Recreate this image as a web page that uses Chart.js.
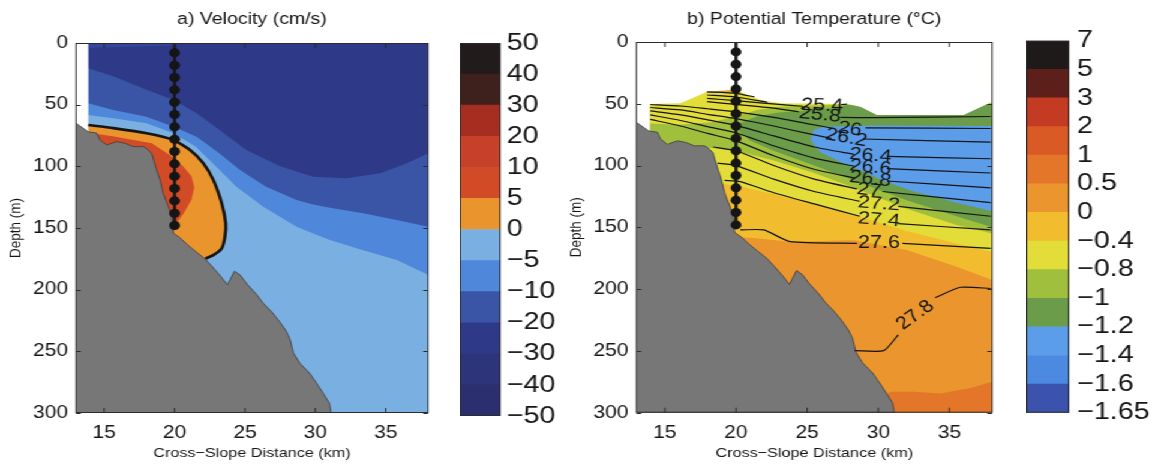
<!DOCTYPE html>
<html>
<head>
<meta charset="utf-8">
<title>Cross-slope sections: velocity and potential temperature</title>
<script src="https://cdn.jsdelivr.net/npm/chart.js@4.4.1/dist/chart.umd.min.js"></script>
<style>
  html, body { margin: 0; padding: 0; background: #fff; overflow: hidden; }
  /* the figure is laid out narrow and widened as a whole */
  #figure { position: relative; width: 961.67px; height: 464px; transform: scaleX(1.2); transform-origin: 0 0; }
  #figure canvas { position: absolute; top: 0; }
</style>
</head>
<body>
<div id="figure">
  <canvas id="velocityChart" width="371" height="464" style="left:0px"></canvas>
  <canvas id="velocityBar" width="92" height="464" style="left:383.33px"></canvas>
  <canvas id="tempChart" width="375" height="464" style="left:466.67px"></canvas>
  <canvas id="tempBar" width="107" height="464" style="left:854.75px"></canvas>
</div>
<script>
// ---- shared axes and geometry (km across slope, depth in m) ----
const kmTicks = [15, 20, 25, 30, 35];
const depthTicks = [0, 50, 100, 150, 200, 250, 300];

const bathymetry = [[13,65],[13.87,72],[14.47,73],[14.7,78.6],[15.18,82.7],[15.89,80],[16.48,81.3],
  [17.07,84],[17.78,84],[18.0,85.4],[18.38,89.5],[18.73,103],[18.97,111],[19.2,122],[19.56,132.7],
  [19.8,140.8],[19.9,154],[20.4,158],[20.86,163],[21.5,169],[22.16,175],[22.7,181.6],[23.3,189.5],
  [23.75,196],[23.94,192],[24.25,185],[24.65,188],[25.15,195.5],[25.83,204],[26.3,211],[26.9,218],
  [27.4,225],[27.9,233],[28.2,240],[28.43,251],[28.9,259.7],[29.6,267.8],[30.1,276],[30.56,284],
  [31.0,292],[31.12,300],[13,300]];

const stationKm = 20;
const stationDepths = [8, 18, 28, 38, 48, 58, 68, 78, 88, 98, 108, 118, 128, 138, 148];

// ---- a) velocity ----
const velocityLevels = ['−50','−40','−30','−20','−10','−5','0','5','10','20','30','40','50'];
const velocityColors = ['#2b2f70','#2d3479','#2e3987','#3a55a6','#4f87da','#7aafe2',
                        '#ea942d','#d24b27','#c6402a','#a52e20','#3e211c','#221b1b'];

const velDomain = [[13,0],[38,0],[38,300],[13,300]];
const velMinus5Top = [[13.87,58.4],[15.65,61],[18,65],[19.9,73],[21.5,84],[22.75,98],[24.4,116.5],
  [26.3,132.7],[28.67,149],[29.85,154.5],[31.04,159.7],[33.4,168],[35.78,176],[38,188],[38,0],[13.87,0]];
const velMinus10Top = [[13.87,48.9],[15.65,54.3],[18,59.7],[19.9,67.8],[21.57,76],[23.2,89.5],
  [24.65,103],[26.5,116.5],[28.67,127.3],[29.85,131],[31.04,133.5],[33.4,138],[35.78,143.5],[38,149],[38,0],[13.87,0]];
const velMinus20Top = [[13.87,20.5],[15.65,27],[18.02,38],[19.9,46],[21.57,57],[23.2,70.5],[25.1,86.8],
  [27.5,100],[29.85,108.4],[32.2,109.7],[34.6,105.7],[36.5,97.6],[38,89.4],[38,0],[13.87,0]];
const velSurfaceSkin = [[13.87,0],[21,0],[19.9,2],[13.87,4]];
const velZeroLine = [[13.87,66.5],[15.65,69],[18.02,73.2],[19.9,78.6],[21.1,86.8],[22.04,97.5],
  [22.75,111],[23.35,130],[23.63,146],[23.58,157],[23.35,166.5],[22.75,172],[22.2,174.8]];
const velCore = [[14.0,73],[15.5,75.5],[17.07,78.6],[18.38,81.3],[19.68,91],[20.6,100],[21.2,108],
  [21.4,117],[21.2,127],[20.65,138],[20.15,146],[19.95,152],[19.9,300],[14.0,300]];
const velNoData = [[13,0],[13.87,0],[13.87,80],[13,80]];

// ---- b) potential temperature ----
const tempLevels = ['−1.65','−1.6','−1.4','−1.2','−1','−0.8','−0.4','0','0.5','1','2','3','5','7'];
const tempColors = ['#3b53ad','#4c89e0','#5b9de9','#6b9c49','#a0bf3c','#e3dd3a','#f2bc2f',
                    '#ea952d','#e4762a','#da5a25','#c33b22','#5c1f19','#1e1a1a'];

const tempDomain = [[13,0],[38,0],[38,300],[13,300]];
const tempWarm = [[19.9,158],[21,158.5],[23.8,161.6],[28.3,160.5],[32,168.3],[35.5,181.8],[38,192.6],[38,300],[19.9,300]];
const tempWarmest = [[29.3,300],[29.8,292],[30.85,283],[32.5,283],[34.4,284.5],[36.5,280],[38,275],[38,300]];
const tempCool = [[13.9,0],[38,0],[38,170],[35.5,163],[32,153],[28.3,140],[23.8,126],[20.3,117],[18.6,114],[13.9,114]];
const tempColder = [[13.94,66],[16,67],[18.3,65],[20,60],[21.5,55],[23,52.5],[25,51.5],[27.8,50.5],[38,50],
  [38,155],[35.5,148],[32,135],[28.3,118],[25.5,106],[22.65,96],[20,88],[18.3,86],[17,84],[13.94,80]];
const tempGreen = [[20.2,66],[21.5,60],[23,57],[25,55.5],[27,53],[28,50.5],[38,50],[38,150],[35.5,141],
  [32,128],[28.3,112],[25.5,100],[22.65,88],[21,80],[20.2,72]];
const tempCore = [[25.46,71.2],[26.2,68.5],[29.68,67.5],[38,68],[38,137],[35.5,130],[32.5,121],[30.5,113],
  [29,105],[27.3,97],[25.9,89],[25.23,79.3]];
const tempBumpWarm = [[17.9,38],[19.7,38],[19.7,41.3],[17.9,41.3]];
const tempNoData = [[13,0],[38,0],[38,48.3],[36,59],[29.9,59],[28.74,52.3],[27.8,50.2],[23.1,49.6],
  [21.7,47],[20.3,40.2],[19.6,38.8],[17.97,40.2],[16.1,49.6],[13.94,50.2],[13.94,80],[13,80]];

// density contours; null marks the break left for the inline label
const isopycnals = [
  [[17.97,40.3],[20,41.5],[21.3,44.5]],
  [[17.97,42.9],[20,44.5],[22.2,48.8]],
  [[17.97,45.6],[20,47.5],[23.0,50.5],[24.7,52],null,[27.4,50.6],[27.8,50.3]],
  [[17.97,48.3],[20,50.5],[22.65,53.5],[24.4,56.5],null,[27.35,61],[29.7,61.2],[37.9,60.3]],
  [[13.98,50.6],[16.1,51.8],[18,54],[20,56.5],[22.65,61],[25,66],[26.9,70],null,[29.1,69.5],[37.9,70]],
  [[13.98,53],[16.1,55],[18,58.5],[20,62],[22.65,68],[25,74],[26.7,78],null,[28.9,78.5],[37.9,81]],
  [[13.98,55.8],[16.1,59],[18,63],[20,67.5],[22.65,76],[25.5,85],[28.3,91],null,[30.6,92.5],[37.9,94.5]],
  [[13.98,59],[16.1,63.5],[18,68.5],[20,73.5],[22.65,84],[25.5,94],[28.3,100.5],null,[30.6,102.5],[37.9,106]],
  [[13.98,62.6],[16.1,68],[18,74],[20,80],[22.65,92],[25.5,103],[28.3,110],null,[30.6,112.5],[37.9,118]],
  [[18.4,85],[20,88],[22.65,100],[25.5,111],[28.5,119],null,[30.3,121],[37.9,130]],
  [[18.7,98],[20,100],[22.65,111],[25.5,121],[28.7,129],null,[31.4,133],[37.9,141]],
  [[19.2,112],[20.3,113],[22.65,122],[25.5,131],[28.7,141],null,[31.4,147],[37.9,152]],
  [[20.31,152.1],[21.95,152.1],[23.82,161.6],[28.5,162.9],null,[31.7,162.9],[37.9,167]],
  [[28.35,249.8],[30.38,249.8],[31.4,237],null,[34.0,207],[35.77,198.5],[37.9,199.5]]
];
const isoLabelText  = ['25.4','25.8','26','26.2','26.4','26.6','26.8','27','27.2','27.4','27.6','27.8'];
const isoLabelKm    = [26.05, 25.9, 28.0, 27.75, 29.45, 29.45, 29.45, 29.35, 30.05, 30.05, 30.05, 32.6];
const isoLabelDepth = [51.5, 59, 70.5, 77.5, 92, 101.5, 111, 120, 131, 144, 163, 221];
const isoLabelAngle = [2, 6, 10, 12, 5, 6, 8, 8, 5, 5, 0, -40];

// ---- drawing helpers ----
const INK = '#151515';
const FONT = '"Liberation Sans", Arial, Helvetica, sans-serif';
Chart.defaults.font.family = FONT;
Chart.defaults.color = INK;
Chart.defaults.animation = false;

function toPoints(pairs) {
  return pairs.map((p, i) => p ? { x: p[0], y: p[1] } : { x: pairs[i - 1][0], y: null });
}

function patch(pairs, color) {
  return { data: toPoints(pairs), showLine: true, fill: 'shape', backgroundColor: color,
           borderWidth: 0, pointRadius: 0, tension: 0 };
}

function contour(pairs, width) {
  return { data: toPoints(pairs), showLine: true, fill: false, borderColor: INK, borderWidth: width,
           pointRadius: 0, tension: 0.2, borderJoinStyle: 'round' };
}

function seabed() {
  return Object.assign(patch(bathymetry, '#777777'), { borderWidth: 0.8, borderColor: '#3c3c3c' });
}

function stationLayers() {
  const last = stationDepths[stationDepths.length - 1];
  return [
    { data: toPoints([[stationKm, 0], [stationKm, last]]), showLine: true, borderColor: INK,
      borderWidth: 2.5, pointRadius: 0 },
    { data: stationDepths.map(d => ({ x: stationKm, y: d })), showLine: false, pointRadius: 4.5,
      pointBackgroundColor: INK, pointBorderWidth: 0 }
  ];
}

const panelTitle = {
  id: 'panelTitle',
  afterDraw(chart, args, opts) {
    const { ctx, chartArea: a } = chart;
    ctx.save();
    ctx.font = '16.3px ' + FONT;
    ctx.fillStyle = INK;
    ctx.textAlign = 'center';
    ctx.textBaseline = 'middle';
    ctx.fillText(opts.text, (a.left + a.right) / 2, 20);
    ctx.restore();
  }
};

// box round the plot with inward ticks on all four sides
const axesFrame = {
  id: 'axesFrame',
  afterDatasetsDraw(chart) {
    const { ctx, chartArea: a, scales: { x, y } } = chart;
    ctx.save();
    ctx.strokeStyle = '#2b2b2b';
    ctx.lineWidth = 1;
    ctx.beginPath();
    x.ticks.forEach(t => {
      const px = x.getPixelForValue(t.value);
      ctx.moveTo(px, a.bottom); ctx.lineTo(px, a.bottom - 5);
      ctx.moveTo(px, a.top); ctx.lineTo(px, a.top + 5);
    });
    y.ticks.forEach(t => {
      const py = Math.round(y.getPixelForValue(t.value)) + 0.5;
      ctx.moveTo(a.left, py); ctx.lineTo(a.left + 4, py);
      ctx.moveTo(a.right, py); ctx.lineTo(a.right - 4, py);
    });
    ctx.stroke();
    ctx.strokeRect(a.left, a.top + 0.5, a.width, a.height - 1);
    ctx.restore();
  }
};

const isopycnalLabels = {
  id: 'isopycnalLabels',
  afterDatasetsDraw(chart) {
    const { ctx, scales: { x, y } } = chart;
    ctx.save();
    ctx.font = '18px ' + FONT;
    ctx.fillStyle = INK;
    ctx.textAlign = 'center';
    ctx.textBaseline = 'middle';
    isoLabelText.forEach((t, i) => {
      ctx.save();
      ctx.translate(x.getPixelForValue(isoLabelKm[i]), y.getPixelForValue(isoLabelDepth[i]));
      ctx.rotate(isoLabelAngle[i] * Math.PI / 180);
      ctx.fillText(t, 0, 0);
      ctx.restore();
    });
    ctx.restore();
  }
};

const barFrame = {
  id: 'barFrame',
  afterDatasetsDraw(chart) {
    const { ctx, chartArea: a } = chart;
    ctx.save();
    ctx.strokeStyle = '#2b2b2b';
    ctx.lineWidth = 1;
    ctx.strokeRect(a.left + 0.5, a.top + 0.5, a.width - 1, a.height - 1);
    ctx.restore();
  }
};

function sectionChart(canvasId, layers, title, opts, extraPlugins) {
  // first layer is painted first, so it gets the highest draw order
  layers.forEach((ds, i) => { ds.order = layers.length - i; });
  const axisFont = { size: 13.5 };
  const tickFont = { size: 17.5 };
  return new Chart(document.getElementById(canvasId), {
    type: 'scatter',
    data: { datasets: layers },
    options: {
      responsive: false,
      events: [],
      layout: { padding: { left: 0, right: opts.rightPad, top: opts.top, bottom: 0 } },
      plugins: { legend: { display: false }, tooltip: { enabled: false }, panelTitle: { text: title } },
      scales: {
        x: {
          type: 'linear', min: 13, max: 38,
          afterBuildTicks: s => { s.ticks = kmTicks.map(v => ({ value: v })); },
          afterFit: s => { s.height = opts.axisHeight; },
          grid: { display: false, drawTicks: false },
          border: { display: false },
          ticks: { font: tickFont, color: INK, padding: 10, maxRotation: 0 },
          title: { display: true, text: 'Cross−Slope Distance (km)', font: axisFont, color: INK,
                   padding: { top: 0, bottom: 3 } }
        },
        y: {
          type: 'linear', min: 0, max: 300, reverse: true,
          afterBuildTicks: s => { s.ticks = depthTicks.map(v => ({ value: v })); },
          afterFit: s => { s.width = opts.axisWidth; },
          grid: { display: false, drawTicks: false },
          border: { display: false },
          ticks: { font: tickFont, color: INK, padding: 6.7 },
          title: { display: true, text: 'Depth (m)', font: axisFont, color: INK,
                   padding: { top: 5, bottom: 0 } }
        }
      }
    },
    plugins: [panelTitle, axesFrame].concat(extraPlugins || [])
  });
}

function colorbar(canvasId, levels, colors, opts) {
  return new Chart(document.getElementById(canvasId), {
    type: 'bar',
    data: {
      labels: [''],
      datasets: colors.map(c => ({ data: [1], backgroundColor: c, borderWidth: 0,
                                   barPercentage: 1, categoryPercentage: 1 }))
    },
    options: {
      responsive: false,
      events: [],
      layout: { padding: { left: 0, right: 0, top: opts.top, bottom: opts.bottom } },
      plugins: { legend: { display: false }, tooltip: { enabled: false } },
      scales: {
        x: { stacked: true, display: false },
        y: {
          stacked: true, position: 'right', min: 0, max: colors.length,
          afterFit: s => { s.width = opts.axisWidth; },
          grid: { display: false, drawTicks: false },
          border: { display: false },
          ticks: { stepSize: 1, autoSkip: false, padding: opts.gap, font: { size: 24 }, color: INK,
                   callback: v => levels[v] }
        }
      }
    },
    plugins: [barFrame]
  });
}

// ---- a) velocity section ----
sectionChart('velocityChart', [
  patch(velDomain, velocityColors[5]),
  patch(velMinus5Top, velocityColors[4]),
  patch(velMinus10Top, velocityColors[3]),
  patch(velMinus20Top, velocityColors[2]),
  patch(velSurfaceSkin, '#34459c'),
  patch(velZeroLine.concat([[22.2, 300], [13.87, 300]]), velocityColors[6]),
  patch(velCore, velocityColors[7]),
  patch(velNoData, '#ffffff'),
  seabed(),
  contour(velZeroLine, 2.6),
  ...stationLayers()
], 'a) Velocity (cm/s)', { axisWidth: 63.33, rightPad: 14.33, top: 43, axisHeight: 51 });

colorbar('velocityBar', velocityLevels, velocityColors,
  { top: 43, bottom: 48, axisWidth: 57.83, gap: 5 });

// ---- b) potential temperature section ----
sectionChart('tempChart', [
  patch(tempDomain, tempColors[6]),
  patch(tempWarm, tempColors[7]),
  patch(tempWarmest, tempColors[8]),
  patch(tempCool, tempColors[5]),
  patch(tempColder, tempColors[4]),
  patch(tempGreen, tempColors[3]),
  patch(tempCore, tempColors[2]),
  patch(tempBumpWarm, '#e9a23a'),
  patch(tempNoData, '#ffffff'),
  seabed(),
  ...isopycnals.map(line => contour(line, 1.2)),
  ...stationLayers()
], 'b) Potential Temperature (°C)', { axisWidth: 63.33, rightPad: 15.25, top: 42, axisHeight: 51.3 },
  [isopycnalLabels]);

colorbar('tempBar', tempLevels, tempColors,
  { top: 40.7, bottom: 51.3, axisWidth: 70.92, gap: 6.4 });
</script>
</body>
</html>
